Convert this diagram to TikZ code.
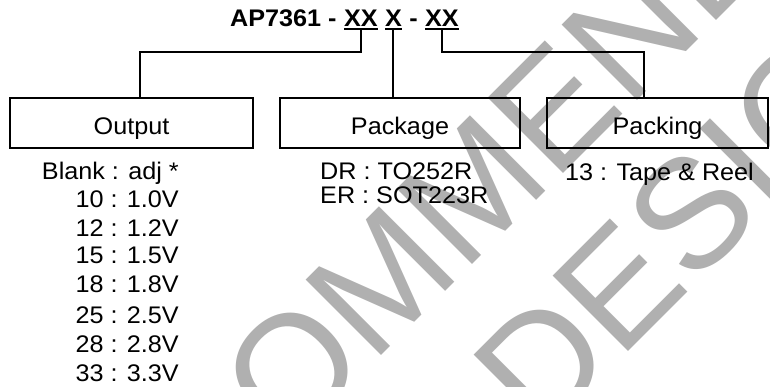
\documentclass[tikz,border=0pt]{standalone}
\usepackage{fontspec}
\setmainfont[FakeStretch=1.05]{Liberation Sans}
\newfontfamily\stampfont{Liberation Sans}
\usetikzlibrary{positioning}
\definecolor{stampgray}{rgb}{0.69,0.69,0.69}
\newcommand{\partfont}{\fontsize{24}{28}\selectfont}

\begin{document}
\begin{tikzpicture}[x=1pt,y=-1pt,
    every node/.style={font=\partfont},
    code/.style={font=\partfont\bfseries, inner sep=0pt, text depth=2.5pt},
    field/.style={draw, line width=2pt, minimum height=50pt, inner sep=0pt, text height=22pt, text depth=0pt},
    entry/.style={inner sep=0pt},
    link/.style={line width=2pt},
    stamp/.style={font=\stampfont\fontsize{155}{160}\selectfont, text=stampgray, inner sep=0pt, anchor=base west, rotate=45},
    node distance=7pt]
      \useasboundingbox (0,0) rectangle (770,386);
      %% watermark
      \begin{scope}
      \clip (0,0) rectangle (770,386);
      \node[stamp] (stampone) at (287,450) {\llap{NOT REC}OMMENDED};
      \node[stamp] (stamptwo) at (540,440) {\llap{FOR NEW }DESIGN};
      \end{scope}
      %% part number
      \node[code, anchor=base west] (prefix) at (230,26) {AP7361 -};
      \node[code, base right=of prefix] (outcode) {XX};
      \node[code, base right=of outcode] (pkgcode) {X};
      \node[code, base right=of pkgcode] (dashtwo) {-};
      \node[code, base right=of dashtwo] (packcode) {XX};
      \draw[link] (outcode.south west) -- (outcode.south east);
      \draw[link] (pkgcode.south west) -- (pkgcode.south east);
      \draw[link] (packcode.south west) -- (packcode.south east);
      %% fields
      \node[field, minimum width=243pt] (out) at (131.5,123) {Output};
      \node[field, minimum width=240pt] (pkg) at (400,123) {Package};
      \node[field, minimum width=221pt] (pck) at (657.5,123) {Packing};
      \draw[link] (outcode.south) -- ++(0,23.5) -| ([xshift=8.5pt]out.north);
      \draw[link] (pkgcode.south) -- (pkgcode.south |- pkg.north);
      \draw[link] (packcode.south) -- ++(0,23.5) -| ([xshift=-13.5pt]pck.north);
      %% options
      \node[entry, anchor=base east] (vadj) at (179,179) {Blank : adj *};
      \node[entry, anchor=base east] (v10) at (179,207) {10 : 1.0V};
      \node[entry, anchor=base east] (v12) at (179,236) {12 : 1.2V};
      \node[entry, anchor=base east] (v15) at (179,263) {15 : 1.5V};
      \node[entry, anchor=base east] (v18) at (179,292) {18 : 1.8V};
      \node[entry, anchor=base east] (v25) at (179,323) {25 : 2.5V};
      \node[entry, anchor=base east] (v28) at (179,352) {28 : 2.8V};
      \node[entry, anchor=base east] (v33) at (179,381) {33 : 3.3V};
      \node[entry, anchor=base west] (dr) at (320,179) {DR : TO252R};
      \node[entry, anchor=base west] (er) at (320,203) {ER : SOT223R};
      \node[entry, anchor=base west] (reel) at (565,180) {13 : Tape \& Reel};
\end{tikzpicture}
\end{document}
